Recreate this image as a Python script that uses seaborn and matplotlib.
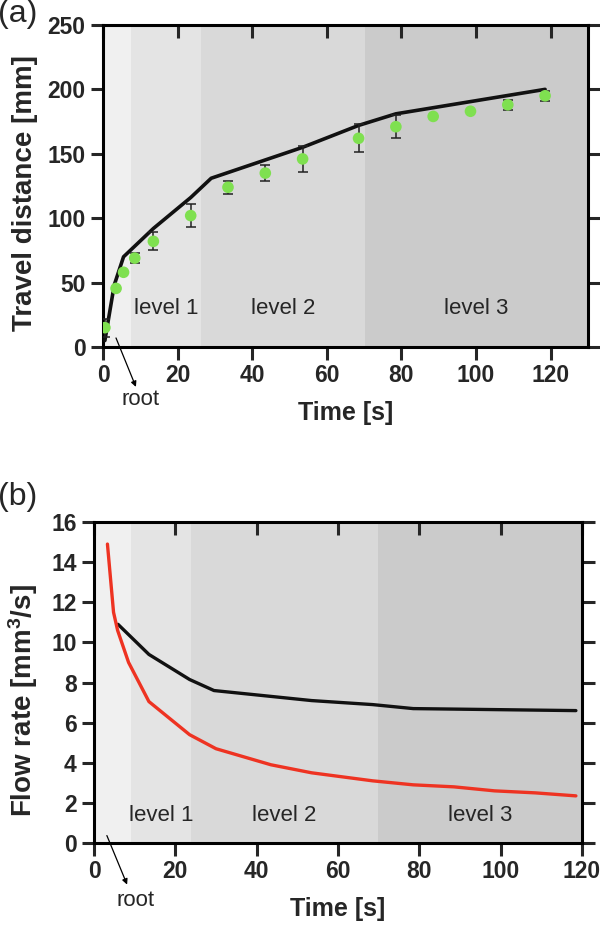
import matplotlib
matplotlib.use("Agg")
import matplotlib.pyplot as plt
import seaborn as sns
import pandas as pd

# ---- panel (a): travel distance ----
t_meas = [0.5, 3.5, 5.5, 8.5, 13.5, 23.5, 33.5, 43.5, 53.5, 68.5, 78.5, 88.5, 98.5, 108.5, 118.5]
dist_meas = [15, 45.5, 58, 69, 82, 102, 124, 135, 146, 162, 171, 179, 183, 188, 195]
dist_err = [7, 0, 0, 4, 7, 9, 5, 6, 10, 11, 9, 0, 0, 4, 4]
t_sim = [0.5, 3, 5.5, 13.5, 23.5, 29, 53.5, 68.5, 78.5, 118.5]
dist_sim = [5, 48, 70, 92, 116, 131, 155, 172, 181, 200]

# ---- panel (b): flow rate ----
t_red = [3.3, 4.8, 5.8, 8.5, 13.5, 23.5, 30, 43.5, 53.5, 68.5, 78.5, 88.5, 98.5, 108.5, 118.5]
flow_red = [14.9, 11.5, 10.6, 9.0, 7.05, 5.4, 4.7, 3.9, 3.5, 3.1, 2.9, 2.8, 2.6, 2.5, 2.35]
t_black = [5.9, 13.5, 23.5, 29.5, 53.5, 68.5, 78.5, 118.5]
flow_black = [10.9, 9.4, 8.15, 7.6, 7.1, 6.9, 6.7, 6.6]

levels = ["level 1", "level 2", "level 3"]
edges_a = [0, 7.5, 26.2, 70.3, 130]
edges_b = [0, 9.2, 23.8, 69.9, 120]
shades = ["#f0f0f0", "#e4e4e4", "#d9d9d9", "#cbcbcb"]

sns.set_style("ticks")
plt.rcParams['font.family'] = ['Liberation Sans', 'DejaVu Sans']
plt.rcParams['mathtext.default'] = 'regular'

fig = plt.figure(figsize=(6, 9.31), dpi=100)
ax_a = fig.add_axes([0.1717, 0.6273, 0.8083, 0.3459])
ax_b = fig.add_axes([0.1567, 0.0945, 0.8133, 0.3448])


def style_axis(ax):
    for s in ax.spines.values():
        s.set_linewidth(2.2)
        s.set_color('black')
        s.set_visible(True)
    ax.tick_params(axis='both', which='major', direction='out', length=9, width=2.2,
                   labelsize=16.5, pad=3.5)
    ax.tick_params(top=True, right=True, labeltop=False, labelright=False)
    for lab in ax.get_xticklabels() + ax.get_yticklabels():
        lab.set_fontweight('bold')
    # ticks on top and right spines point inward
    for t in ax.xaxis.get_major_ticks():
        t.tick2line.set_marker(3)
        t.tick2line.set_markersize(9)
    for t in ax.yaxis.get_major_ticks():
        t.tick2line.set_marker(1)
        t.tick2line.set_markersize(9)


def shade(ax, edges, ylevel):
    for i in range(len(edges) - 1):
        ax.axvspan(edges[i], edges[i + 1], color=shades[i], lw=0, zorder=0)
    for i, name in enumerate(levels):
        xc = (edges[i + 1] + edges[i + 2]) / 2
        ax.text(xc, ylevel, name, ha='center', va='center', fontsize=16, zorder=1)


# ---------- (a) ----------
shade(ax_a, edges_a, 30)
df_sim = pd.DataFrame({'t': t_sim, 'd': dist_sim})
sns.lineplot(data=df_sim, x='t', y='d', ax=ax_a, color='#111111', lw=2.6, zorder=3)
ax_a.errorbar(t_meas, dist_meas, yerr=dist_err, fmt='none', ecolor='#222222',
              elinewidth=1.1, capsize=3.5, capthick=1.1, zorder=4)
df_meas = pd.DataFrame({'t': t_meas, 'd': dist_meas})
sns.scatterplot(data=df_meas, x='t', y='d', ax=ax_a, color='#7fe050', s=70,
                edgecolor='none', zorder=5)
ax_a.set_xlim(0, 130)
ax_a.set_ylim(0, 250)
ax_a.set_xticks(range(0, 121, 20))
ax_a.set_yticks(range(0, 251, 50))
ax_a.set_xlabel('Time [s]', fontsize=18, fontweight='bold', labelpad=10)
ax_a.set_ylabel('Travel distance [mm]', fontsize=20, fontweight='bold', labelpad=7, y=0.478)
style_axis(ax_a)
ax_a.annotate('', xy=(9.1, -33), xytext=(3.2, 9), xycoords='data',
              arrowprops=dict(arrowstyle='-|>', color='black', lw=0.9, mutation_scale=8),
              annotation_clip=False)
ax_a.text(10, -41, 'root', ha='center', va='center', fontsize=16, clip_on=False)
fig.text(-0.003, 0.985, '(a)', fontsize=23, ha='left', va='center')

# ---------- (b) ----------
shade(ax_b, edges_b, 1.35)
df_red = pd.DataFrame({'t': t_red, 'q': flow_red})
df_black = pd.DataFrame({'t': t_black, 'q': flow_black})
sns.lineplot(data=df_black, x='t', y='q', ax=ax_b, color='#111111', lw=2.4, zorder=3)
sns.lineplot(data=df_red, x='t', y='q', ax=ax_b, color='#ee3322', lw=2.4, zorder=4)
ax_b.set_xlim(0, 120)
ax_b.set_ylim(0, 16)
ax_b.set_xticks(range(0, 121, 20))
ax_b.set_yticks(range(0, 17, 2))
ax_b.set_xlabel('Time [s]', fontsize=18, fontweight='bold', labelpad=10)
ax_b.set_ylabel('Flow rate [mm$^3$/s]', fontsize=20, fontweight='bold', labelpad=8, y=0.445)
style_axis(ax_b)
ax_b.annotate('', xy=(8.4, -2.2), xytext=(2.9, 0.5), xycoords='data',
              arrowprops=dict(arrowstyle='-|>', color='black', lw=0.9, mutation_scale=8),
              annotation_clip=False)
ax_b.text(10.3, -2.85, 'root', ha='center', va='center', fontsize=16, clip_on=False)
fig.text(-0.003, 0.466, '(b)', fontsize=23, ha='left', va='center')

fig.savefig('out.png', dpi=100)
